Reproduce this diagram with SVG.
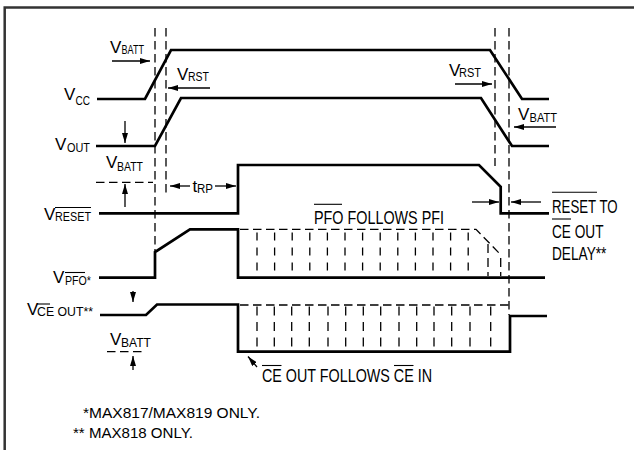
<svg xmlns="http://www.w3.org/2000/svg" width="634" height="450" viewBox="0 0 634 450">
<style>
.sig{fill:none;stroke:#000;stroke-width:2.7;stroke-linejoin:miter}
.dash{fill:none;stroke:#000;stroke-width:1.3;stroke-dasharray:8.5 4.5}
.grid{fill:none;stroke:#000;stroke-width:1.3}
.arr{fill:none;stroke:#000;stroke-width:1.3;marker-end:url(#ah)}
.ov{stroke:#000;stroke-width:1.1}
text{font-family:"Liberation Sans",Arial,sans-serif;fill:#000}
.m{font-size:17px}
.s{font-size:12.5px}
.l{font-size:17.5px}
.f{font-size:15.5px}
</style>
<defs>
<marker id="ah" viewBox="0 0 10 6" refX="10" refY="3" markerWidth="10" markerHeight="6" markerUnits="userSpaceOnUse" orient="auto"><path d="M0,0 L10,3 L0,6 z" fill="#000"/></marker>
</defs>
<rect width="634" height="450" fill="#fff"/>
<g id="frame"><path d="M4.7,450 V7.5 H634" fill="none" stroke="#333" stroke-width="2.5"/></g>

<g id="guides">
<line class="dash" x1="155" y1="28" x2="155" y2="252"/>
<line class="dash" x1="166" y1="28" x2="166" y2="194"/>
<line class="dash" x1="495" y1="28" x2="495" y2="166"/>
<line class="dash" x1="509" y1="28" x2="509" y2="315"/>
<line class="dash" x1="96" y1="182.3" x2="153" y2="182.3"/>
<line class="dash" x1="107" y1="351.7" x2="146" y2="351.7"/>
</g>

<g id="vcc">
<polyline class="sig" points="97,99 145,99 171,50 490,50 522,99 549,99"/>
<text class="m" x="64" y="100">V</text><text class="s" x="75.5" y="105" textLength="14.5" lengthAdjust="spacingAndGlyphs">CC</text>
</g>

<g id="vout">
<polyline class="sig" points="96,146 155,146 181,98 481,98 512,146 549,146"/>
<text class="m" x="55" y="150">V</text><text class="s" x="67" y="151.5" textLength="23" lengthAdjust="spacingAndGlyphs">OUT</text>
</g>

<g id="vreset">
<polyline class="sig" points="99,213.3 238,213.3 238,165 479,165 500.7,186.7 500.7,213.3 549,213.3"/>
<text class="m" x="44" y="220">V</text><text class="s" x="55" y="221" textLength="36" lengthAdjust="spacingAndGlyphs">RESET</text>
<line class="ov" x1="55" y1="207.5" x2="91" y2="207.5"/>
</g>

<g id="vpfo">
<polyline class="sig" points="99,277.7 155,277.7 155,252 190,229.3 238,229.3 238,277.7 545,277.7"/>
<path class="dash" d="M240,229.3 H476 L500,254"/>
<path class="grid" stroke-dasharray="8 7" d="M257,232.5V276 M274.6,232.5V276 M292.2,232.5V276 M309.8,232.5V276 M327.4,232.5V276 M345,232.5V276 M362.6,232.5V276 M380.2,232.5V276 M397.8,232.5V276 M415.4,232.5V276 M433,232.5V276 M450.6,232.5V276 M468.2,232.5V276"/>
<path class="grid" stroke-dasharray="9 5" d="M488,244V276"/>
<path class="grid" stroke-dasharray="9 5" d="M500.7,258V276"/>
<text class="m" x="53" y="283">V</text><text class="s" x="65" y="285" textLength="26" lengthAdjust="spacingAndGlyphs">PFO*</text>
<line class="ov" x1="65" y1="272.5" x2="85" y2="272.5"/>
<text class="l" x="314" y="224" textLength="130" lengthAdjust="spacingAndGlyphs">PFO FOLLOWS PFI</text>
<line class="ov" x1="314" y1="204.3" x2="342" y2="204.3"/>
</g>

<g id="vceout">
<polyline class="sig" points="100,315 146,315 157,304.5 238,304.5 238,351.7 510,351.7 510,316 547,316"/>
<path class="dash" d="M240,305 H509"/>
<path class="grid" stroke-dasharray="9 6.5" d="M257,306.5V350 M274.3,306.5V350 M291.7,306.5V350 M309.3,306.5V350 M328,306.5V350 M345.7,306.5V350 M363.3,306.5V350 M380.7,306.5V350 M399,306.5V350 M416.7,306.5V350 M434,306.5V350 M451.7,306.5V350 M470,306.5V350 M490.7,306.5V350"/>
<text class="m" x="27" y="315">V</text><text class="s" x="37" y="316" textLength="56" lengthAdjust="spacingAndGlyphs">CE OUT**</text>
<line class="ov" x1="37" y1="304" x2="50" y2="304"/>
<text class="l" x="262" y="382" textLength="170" lengthAdjust="spacingAndGlyphs">CE OUT FOLLOWS CE IN</text>
<line class="ov" x1="262" y1="365.5" x2="281.5" y2="365.5"/>
<line class="ov" x1="394" y1="365.5" x2="413.5" y2="365.5"/>
</g>

<g id="labels">
<text class="m" x="110" y="53">V</text><text class="s" x="121.5" y="54" textLength="22.5" lengthAdjust="spacingAndGlyphs">BATT</text>
<text class="m" x="177" y="80">V</text><text class="s" x="188" y="81" textLength="21" lengthAdjust="spacingAndGlyphs">RST</text>
<text class="m" x="449" y="76">V</text><text class="s" x="459" y="77" textLength="22" lengthAdjust="spacingAndGlyphs">RST</text>
<text class="m" x="518" y="120">V</text><text class="s" x="529.5" y="121.5" textLength="27.5" lengthAdjust="spacingAndGlyphs">BATT</text>
<text class="m" x="106" y="168">V</text><text class="s" x="117" y="171" textLength="26" lengthAdjust="spacingAndGlyphs">BATT</text>
<text class="m" x="192.5" y="192">t</text><text class="s" x="197" y="193" textLength="16" lengthAdjust="spacingAndGlyphs">RP</text>
<text class="m" x="110" y="345">V</text><text class="s" x="121" y="346.5" textLength="30" lengthAdjust="spacingAndGlyphs">BATT</text>
<text class="l" transform="matrix(0.758 0 0 1 552 213)">RESET TO</text>
<line class="ov" x1="552" y1="192.3" x2="597" y2="192.3"/>
<text class="l" transform="matrix(0.78 0 0 1 552 238)">CE OUT</text>
<line class="ov" x1="552" y1="219" x2="571" y2="219"/>
<text class="l" transform="matrix(0.78 0 0 1 552 260)">DELAY**</text>
<text class="f" x="83" y="418" textLength="177" lengthAdjust="spacingAndGlyphs">*MAX817/MAX819 ONLY.</text>
<text class="f" x="73" y="438" textLength="120" lengthAdjust="spacingAndGlyphs">** MAX818 ONLY.</text>
</g>

<g id="connectors">
<line class="arr" x1="112" y1="61" x2="150" y2="61"/>
<line class="arr" x1="210" y1="88" x2="168" y2="88"/>
<line class="arr" x1="125" y1="121" x2="125" y2="143"/>
<line class="arr" x1="125" y1="207" x2="125" y2="184"/>
<line class="arr" x1="190" y1="186" x2="170" y2="186"/>
<line class="arr" x1="215" y1="186" x2="236" y2="186"/>
<line class="arr" x1="455" y1="84" x2="492" y2="84"/>
<line class="arr" x1="556" y1="127" x2="514" y2="127"/>
<line class="arr" x1="472" y1="202" x2="499" y2="202"/>
<line class="arr" x1="541" y1="202" x2="511" y2="202"/>
<line class="arr" x1="133" y1="291" x2="133" y2="302"/>
<line class="arr" x1="133" y1="370" x2="133" y2="356"/>
<line class="arr" x1="257" y1="367" x2="248" y2="356.5"/>
</g>
</svg>
